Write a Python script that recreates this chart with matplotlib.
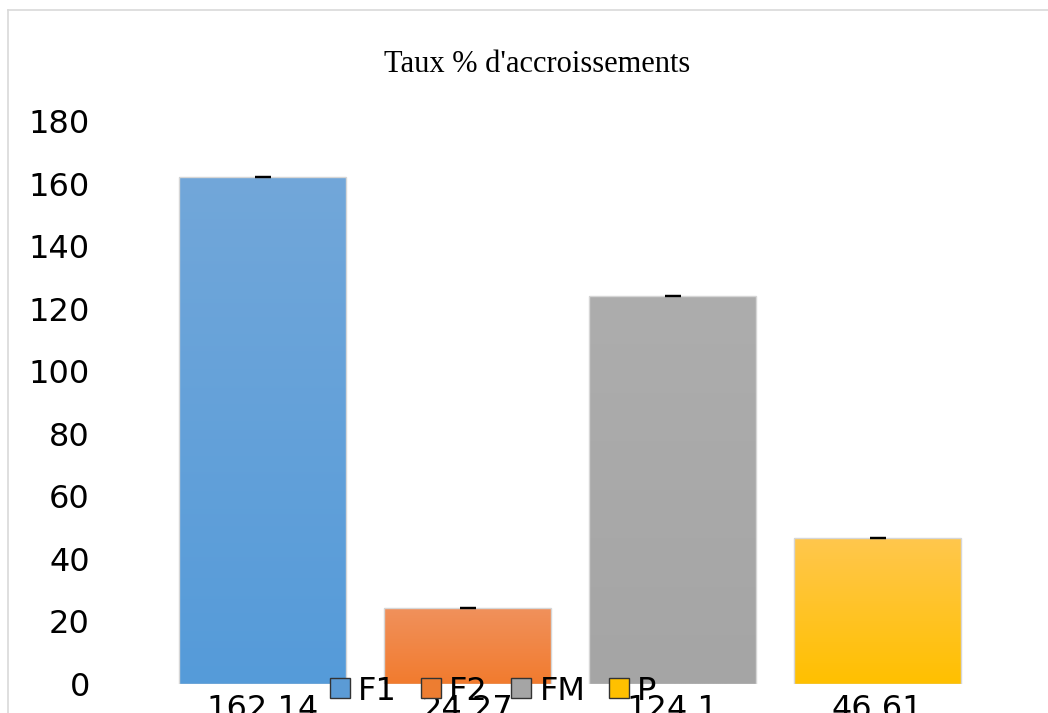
# Growth rate bar chart (F1, F2, FM, P) with gradient-filled bars

import matplotlib
matplotlib.use("Agg")
import matplotlib.pyplot as plt
from matplotlib.colors import LinearSegmentedColormap
from matplotlib.lines import Line2D
import numpy as np

# data
CATEGORIES = ["F1", "F2", "FM", "P"]
VALUES = [162.14, 24.27, 124.1, 46.61]
ERRORS = [0, 0, 0, 0]
VALUE_LABELS = ["162.14", "24.27", "124.1", "46.61"]
Y_TICKS = [0, 20, 40, 60, 80, 100, 120, 140, 160, 180]

TITLE = "Taux % d'accroissements"
FILE = "out.png"

# top / bottom colour of each bar's gradient
TOP_COLORS = ["#72a7da", "#f0915c", "#adadad", "#ffc74d"]
BOTTOM_COLORS = ["#559bd9", "#f27b2e", "#a5a5a5", "#ffc000"]
LEGEND_COLORS = ["#5b9bd5", "#ed7d31", "#a5a5a5", "#ffc000"]

W, H = 1048, 713
FONT_TICKS = 23
FONT_TITLE = 22


def gradient_bar(ax, bar, top, bottom):
	x0, y0 = bar.get_x(), bar.get_y()
	w, h = bar.get_width(), bar.get_height()
	cmap = LinearSegmentedColormap.from_list("g", [bottom, top])
	grad = np.linspace(0, 1, 256).reshape(-1, 1)
	img = ax.imshow(grad, cmap=cmap, origin="lower", aspect="auto",
		extent=[x0, x0 + w, y0, y0 + h], zorder=2)
	img.set_clip_path(bar)
	bar.set_facecolor("none")


def draw():
	fig = plt.figure(figsize=(W / 100, H / 100), dpi=100)
	fig.patch.set_facecolor("white")

	# light chart frame, only top and left edges fall inside the image
	fig.add_artist(Line2D([8 / W, 8 / W], [0, 1 - 10 / H], color="#d9d9d9", lw=1.2))
	fig.add_artist(Line2D([8 / W, 1], [1 - 10 / H, 1 - 10 / H], color="#d9d9d9", lw=1.2))

	ax = fig.add_axes([160 / W, 1 - 684 / H, 820 / W, (684 - 121) / H])
	x = np.arange(len(CATEGORIES))
	bars = ax.bar(x, VALUES, width=0.81, edgecolor="#d6d6d6", linewidth=1.0, zorder=3)
	for bar, top, bottom in zip(bars, TOP_COLORS, BOTTOM_COLORS):
		gradient_bar(ax, bar, top, bottom)

	ax.errorbar(x, VALUES, yerr=ERRORS, fmt="none", ecolor="black",
		elinewidth=1, capsize=5.5, capthick=1.6, zorder=4)

	ax.set_xlim(-0.5, len(CATEGORIES) - 0.5)
	ax.set_ylim(0, 180)
	ax.set_yticks(Y_TICKS)
	ax.set_xticks([])
	ax.tick_params(axis="y", length=0, pad=50.5, labelsize=FONT_TICKS, labelcolor="black")
	for s in ax.spines.values():
		s.set_visible(False)

	# value labels under each bar
	for xi, lab in zip(x, VALUE_LABELS):
		ax.text(xi, -8, lab, ha="center", va="center", fontsize=FONT_TICKS,
			color="black", clip_on=False)

	fig.text(537 / W, 1 - 65 / H, TITLE, ha="center", va="center",
		fontsize=FONT_TITLE, family="Liberation Serif", color="black")

	markers = [Line2D([0], [0], marker="s", linestyle="", markersize=14,
		markerfacecolor=c, markeredgecolor="#333333", markeredgewidth=1.0)
		for c in LEGEND_COLORS]
	fig.legend(markers, CATEGORIES, loc="center", bbox_to_anchor=(493 / W, 1 - 691 / H),
		ncol=4, frameon=False, fontsize=FONT_TICKS, handletextpad=0.25,
		columnspacing=0.72, handlelength=0.65, borderpad=0)

	plt.savefig(FILE, dpi=100)


if __name__ == "__main__":
	draw()
